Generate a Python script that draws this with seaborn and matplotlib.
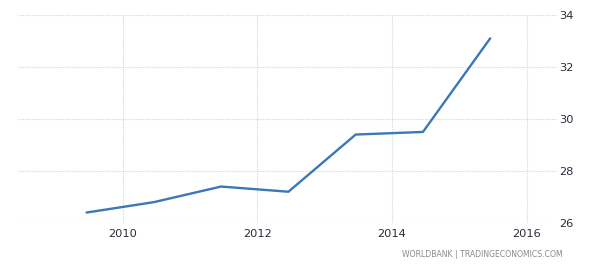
import matplotlib
matplotlib.use("Agg")
import matplotlib.pyplot as plt
import seaborn as sns
import pandas as pd

years = [2009.46, 2010.46, 2011.46, 2012.46, 2013.46, 2014.46, 2015.46]
values = [26.4, 26.8, 27.4, 27.2, 29.4, 29.5, 33.1]
x_ticks = [2010, 2012, 2014, 2016]
y_ticks = [26, 28, 30, 32, 34]

df = pd.DataFrame({"year": years, "value": values})

sns.set_style("white")
plt.rcParams['font.family'] = ['Liberation Sans Narrow', 'DejaVu Sans']

fig = plt.figure(figsize=(6.0, 2.67), dpi=100)
ax = fig.add_axes([0.03, 0.165, 0.898, 0.779])

sns.lineplot(data=df, x="year", y="value", ax=ax, color="#3a78b6", linewidth=1.7)

ax.set_xlim(2008.44, 2016.45)
ax.set_ylim(26, 34)
ax.set_xticks(x_ticks)
ax.set_xticklabels([str(t) for t in x_ticks])
ax.set_yticks(y_ticks)
ax.set_yticklabels([str(t) for t in y_ticks])
ax.yaxis.tick_right()
ax.tick_params(axis='both', length=0, labelsize=8.2, colors="#2b2b3a")
ax.tick_params(axis='y', pad=2)
ax.tick_params(axis='x', pad=4)
ax.set_xlabel("")
ax.set_ylabel("")
for s in ax.spines.values():
    s.set_visible(False)
ax.grid(True, color="#d6d6d6", linestyle=(0, (1, 1)), linewidth=0.8)
ax.set_axisbelow(True)

fig.text(0.938, 0.045, "WORLDBANK | TRADINGECONOMICS.COM", ha="right", va="center",
         fontsize=5.6, color="#8a8a8a")

fig.savefig("out.png", dpi=100)
